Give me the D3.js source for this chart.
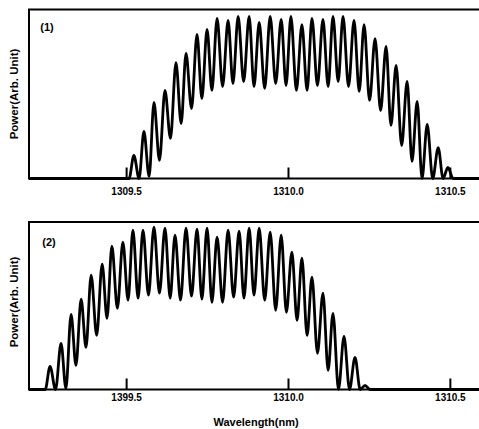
<!DOCTYPE html>
<html>
<head>
<meta charset="utf-8">
<script src="https://cdn.jsdelivr.net/npm/d3@7/dist/d3.min.js"></script>
<style>
  body { margin: 0; background: #fff; }
  svg { display: block; }
  text { font-family: "Liberation Sans", Arial, sans-serif; font-weight: bold; fill: #000; }
</style>
</head>
<body>
<div id="chart"></div>
<script>
// ---- data ----
var xTicks = [1309.5, 1310.0, 1310.5];
var tickLabels1 = ["1309.5", "1310.0", "1310.5"];
var tickLabels2 = ["1399.5", "1310.0", "1310.5"];

// panel (1)
var peakWl1 = [1309.524, 1309.555, 1309.586, 1309.620, 1309.654, 1309.685, 1309.719, 1309.750,
  1309.781, 1309.815, 1309.846, 1309.880, 1309.911, 1309.945, 1309.979, 1310.009, 1310.043,
  1310.074, 1310.108, 1310.139, 1310.170, 1310.204, 1310.235, 1310.269, 1310.303, 1310.334,
  1310.368, 1310.399, 1310.430, 1310.464, 1310.494];
var peakPow1 = [0.136, 0.278, 0.450, 0.521, 0.686, 0.740, 0.852, 0.882, 0.947, 0.935, 0.959,
  0.959, 0.923, 0.959, 0.941, 0.959, 0.911, 0.947, 0.941, 0.959, 0.959, 0.935, 0.911, 0.828,
  0.781, 0.669, 0.574, 0.456, 0.320, 0.183, 0.065];
var valleyWl1 = [1309.540, 1309.571, 1309.603, 1309.637, 1309.670, 1309.702, 1309.734, 1309.765,
  1309.798, 1309.830, 1309.863, 1309.895, 1309.928, 1309.962, 1309.994, 1310.026, 1310.059,
  1310.091, 1310.124, 1310.155, 1310.187, 1310.220, 1310.252, 1310.286, 1310.318, 1310.351,
  1310.383, 1310.414, 1310.447, 1310.479];
var valleyPow1 = [0, 0.012, 0.107, 0.237, 0.325, 0.414, 0.473, 0.521, 0.544, 0.562, 0.574,
  0.544, 0.533, 0.562, 0.550, 0.521, 0.521, 0.550, 0.544, 0.574, 0.544, 0.515, 0.462, 0.402,
  0.314, 0.195, 0.101, 0, 0, 0];
var baseWl1 = [1309.2, 1309.509, 1310.51, 1310.6];

// panel (2)
var peakWl2 = [1309.265, 1309.299, 1309.330, 1309.361, 1309.392, 1309.426, 1309.456, 1309.490,
  1309.521, 1309.552, 1309.586, 1309.620, 1309.651, 1309.685, 1309.719, 1309.750, 1309.781,
  1309.815, 1309.849, 1309.880, 1309.911, 1309.945, 1309.979, 1310.012, 1310.043, 1310.074,
  1310.108, 1310.139, 1310.173, 1310.207, 1310.238];
var peakPow2 = [0.138, 0.275, 0.449, 0.539, 0.683, 0.749, 0.856, 0.880, 0.952, 0.952, 0.970,
  0.964, 0.922, 0.964, 0.958, 0.964, 0.910, 0.952, 0.946, 0.964, 0.964, 0.940, 0.922, 0.820,
  0.784, 0.671, 0.575, 0.455, 0.317, 0.192, 0.024];
var valleyWl2 = [1309.282, 1309.314, 1309.345, 1309.376, 1309.409, 1309.441, 1309.473, 1309.506,
  1309.537, 1309.569, 1309.603, 1309.636, 1309.668, 1309.702, 1309.734, 1309.765, 1309.798,
  1309.832, 1309.864, 1309.895, 1309.928, 1309.962, 1309.995, 1310.028, 1310.059, 1310.091,
  1310.124, 1310.156, 1310.190, 1310.223];
var valleyPow2 = [0, 0.006, 0.144, 0.251, 0.323, 0.425, 0.485, 0.533, 0.545, 0.563, 0.575,
  0.545, 0.533, 0.557, 0.539, 0.521, 0.521, 0.551, 0.545, 0.563, 0.533, 0.473, 0.461, 0.413,
  0.323, 0.216, 0.114, 0, 0, 0];
var baseWl2 = [1309.2, 1309.25, 1310.253, 1310.6];

var width = 479, height = 429;

var svg = d3.select("#chart").append("svg")
    .attr("width", width)
    .attr("height", height);

var x = d3.scaleLinear()
    .domain([1309.2, 1310.59])
    .range([29, 479]);

function buildSeries(pw, pp, vw, vp, bw) {
    var pts = [];
    pw.forEach(function(w, i) { pts.push({ wl: w, p: pp[i] }); });
    vw.forEach(function(w, i) { pts.push({ wl: w, p: vp[i] }); });
    bw.forEach(function(w) { pts.push({ wl: w, p: 0 }); });
    pts.sort(function(a, b) { return a.wl - b.wl; });
    return pts;
}

function drawPanel(opt) {
    var y = d3.scaleLinear()
        .domain([0, 1])
        .range([opt.bottom, opt.top]);

    var g = svg.append("g");

    var line = d3.line()
        .x(function(d) { return x(d.wl); })
        .y(function(d) { return y(d.p); })
        .curve(d3.curveMonotoneX);

    g.append("path")
        .datum(opt.data)
        .attr("fill", "none")
        .attr("stroke", "#000")
        .attr("stroke-width", 2.8)
        .attr("stroke-linejoin", "round")
        .attr("d", line);

    // frame (open on the right, cut by the page edge)
    g.append("rect")
        .attr("x", 29)
        .attr("y", opt.top)
        .attr("width", 470)
        .attr("height", opt.bottom - opt.top)
        .attr("fill", "none")
        .attr("stroke", "#000")
        .attr("stroke-width", 2);

    var xAxis = d3.axisBottom(x)
        .tickValues(xTicks)
        .tickFormat(function(d, i) { return opt.labels[i]; })
        .tickSizeInner(-11)
        .tickSizeOuter(0)
        .tickPadding(opt.pad);

    var ax = g.append("g")
        .attr("transform", "translate(0," + opt.bottom + ")")
        .call(xAxis);
    ax.select(".domain").remove();
    ax.selectAll(".tick line").attr("stroke", "#000").attr("stroke-width", 2);
    ax.selectAll(".tick text")
        .attr("fill", "#000")
        .style("font-size", "10px")
        .style("font-family", "'Liberation Sans', Arial, sans-serif")
        .style("font-weight", "bold");

    g.append("text")
        .attr("transform", "translate(18," + opt.yLabelMid + ") rotate(-90)")
        .attr("text-anchor", "middle")
        .style("font-size", "11.5px")
        .text("Power(Arb. Unit)");

    g.append("text")
        .attr("x", opt.tag[0])
        .attr("y", opt.tag[1])
        .attr("text-anchor", "middle")
        .style("font-size", "11px")
        .text(opt.tagText);
}

drawPanel({
    top: 9.5, bottom: 178.5,
    data: buildSeries(peakWl1, peakPow1, valleyWl1, valleyPow1, baseWl1),
    labels: tickLabels1, pad: 9,
    yLabelMid: 94, tag: [47, 31], tagText: "(1)"
});

drawPanel({
    top: 222, bottom: 389.5,
    data: buildSeries(peakWl2, peakPow2, valleyWl2, valleyPow2, baseWl2),
    labels: tickLabels2, pad: 4,
    yLabelMid: 302, tag: [49, 246], tagText: "(2)"
});

svg.append("text")
    .attr("x", 256)
    .attr("y", 426)
    .attr("text-anchor", "middle")
    .style("font-size", "11px")
    .text("Wavelength(nm)");
</script>
</body>
</html>
